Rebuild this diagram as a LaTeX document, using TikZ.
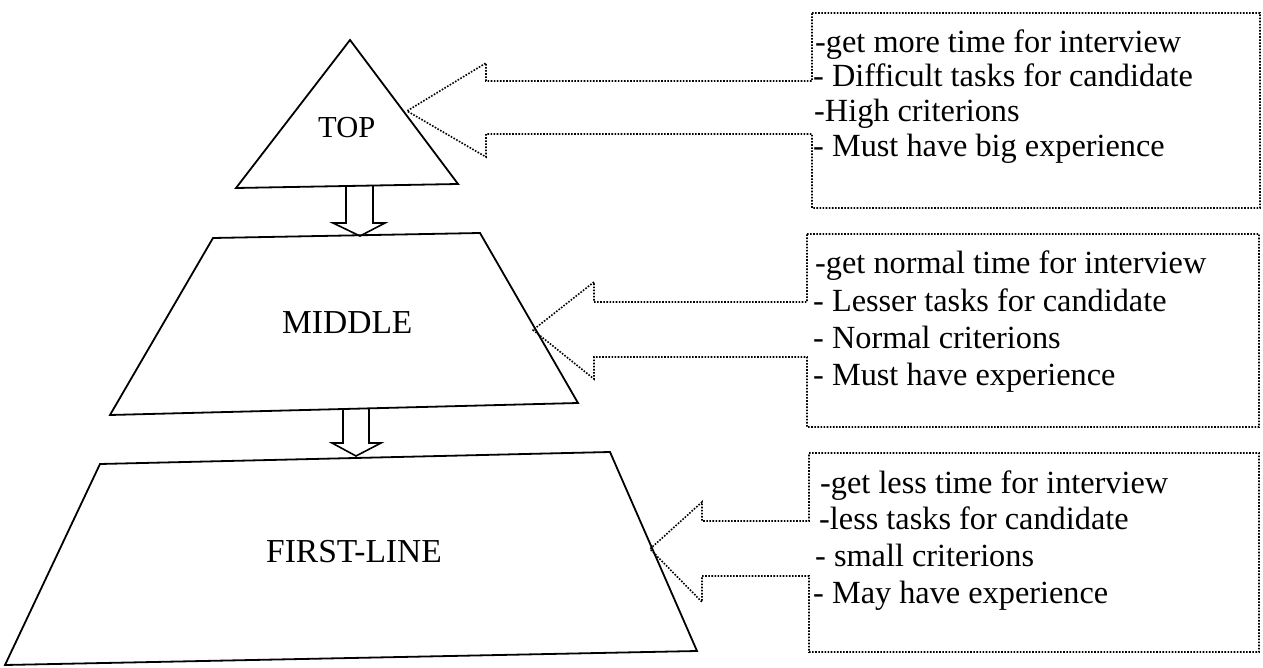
\documentclass[tikz,border=0pt]{standalone}
\usepackage{fontspec}
\setmainfont{Liberation Serif}
\begin{document}
\begin{tikzpicture}[x=1pt,y=-1pt,
  solidshape/.style={draw=black,line width=1.8pt,line join=miter},
  callout/.style={draw=black,line width=1.6pt,dash pattern=on 1.6pt off 1.5pt},
  boxtext/.style={anchor=base west,inner sep=0pt,font=\fontsize{32.3}{36}\selectfont},
  lbl/.style={anchor=base west,inner sep=0pt,font=\fontsize{33.5}{38}\selectfont}]
\useasboundingbox (0,0) rectangle (1263,668);

% --- TOP triangle ---
\coordinate (tA) at (350,40);
\coordinate (tL) at (236,188);
\coordinate (tR) at (458,184);
\draw[solidshape] (tA) -- (tR) -- (tL) -- cycle;
\node[lbl,font=\fontsize{30.5}{34}\selectfont] (top) at (318,138) {TOP};

% --- MIDDLE trapezoid ---
\coordinate (mTL) at (213,238);
\coordinate (mTR) at (480,233);
\coordinate (mBR) at (578,403);
\coordinate (mBL) at (110,415);
\draw[solidshape] (mTL) -- (mTR) -- (mBR) -- (mBL) -- cycle;
\node[lbl] (middle) at (282,333) {MIDDLE};

% --- FIRST-LINE trapezoid ---
\coordinate (fTL) at (100,464);
\coordinate (fTR) at (610,452);
\coordinate (fBR) at (697,651);
\coordinate (fBL) at (5,665);
\draw[solidshape] (fTL) -- (fTR) -- (fBR) -- (fBL) -- cycle;
\node[lbl] (first) at (266,562) {FIRST-LINE};

% --- down arrows ---
\coordinate (d1a) at (346,187);
\coordinate (d1b) at (346,223);
\coordinate (d1c) at (333,223);
\coordinate (d1t) at (360,236);
\coordinate (d1d) at (385,223);
\coordinate (d1e) at (373,223);
\coordinate (d1f) at (373,186);
\draw[solidshape,line width=1.6pt] (d1a) -- (d1b) -- (d1c) -- (d1t) -- (d1d) -- (d1e) -- (d1f);

\coordinate (d2a) at (343,410);
\coordinate (d2b) at (343,443);
\coordinate (d2c) at (332,443);
\coordinate (d2t) at (356,456);
\coordinate (d2d) at (381,443);
\coordinate (d2e) at (369,443);
\coordinate (d2f) at (369,409);
\draw[solidshape,line width=1.6pt] (d2a) -- (d2b) -- (d2c) -- (d2t) -- (d2d) -- (d2e) -- (d2f);

% --- callout 1 ---
\coordinate (c1tl) at (812,13);
\coordinate (c1tr) at (1260,13);
\coordinate (c1br) at (1260,208);
\coordinate (c1bl) at (812,208);
\draw[callout] (c1tl) -- (c1tr) -- (c1br) -- (c1bl) -- (812,134) -- (486,134) -- (486,157)
  -- (407,111) -- (486,63) -- (486,81) -- (812,81) -- cycle;
\node[boxtext] (b1l1) at (815,53) {-get more time for interview};
\node[boxtext] (b1l2) at (813,87) {- Difficult tasks for candidate};
\node[boxtext] (b1l3) at (814,122) {-High criterions};
\node[boxtext] (b1l4) at (813,157) {- Must have big experience};

% --- callout 2 ---
\coordinate (c2tl) at (807,234);
\coordinate (c2tr) at (1259,234);
\coordinate (c2br) at (1259,427);
\coordinate (c2bl) at (807,427);
\draw[callout] (c2tl) -- (c2tr) -- (c2br) -- (c2bl) -- (807,357) -- (594,357) -- (594,379)
  -- (533,330) -- (594,282) -- (594,302) -- (807,302) -- cycle;
\node[boxtext] (b2l1) at (815,273) {-get normal time for interview};
\node[boxtext] (b2l2) at (813,311) {- Lesser tasks for candidate};
\node[boxtext] (b2l3) at (813,348) {- Normal criterions};
\node[boxtext] (b2l4) at (813,385) {- Must have experience};

% --- callout 3 ---
\coordinate (c3tl) at (809,453);
\coordinate (c3tr) at (1259,453);
\coordinate (c3br) at (1259,652);
\coordinate (c3bl) at (809,652);
\draw[callout] (c3tl) -- (c3tr) -- (c3br) -- (c3bl) -- (809,576) -- (702,576) -- (702,602)
  -- (650,549) -- (702,502) -- (702,521) -- (809,521) -- cycle;
\node[boxtext] (b3l1) at (820,493) {-get less time for interview};
\node[boxtext] (b3l2) at (819,529) {-less tasks for candidate};
\node[boxtext] (b3l3) at (815,566) {- small criterions};
\node[boxtext] (b3l4) at (813,603) {- May have experience};
\end{tikzpicture}
\end{document}
